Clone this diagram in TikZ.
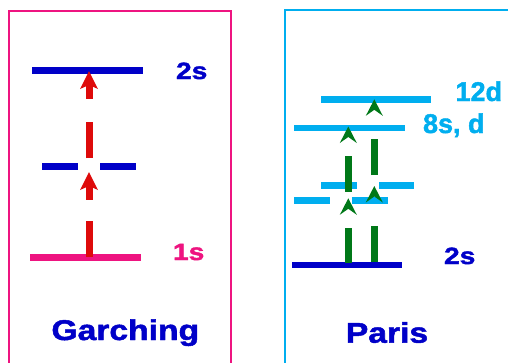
\documentclass[tikz,border=0pt]{standalone}
\usepackage{fontspec}
\setmainfont{Liberation Sans}
\newfontfamily\heavyfont{Liberation Sans Bold}[FakeBold=1.6]
\definecolor{pinkc}{RGB}{238,20,128}
\definecolor{darkbl}{RGB}{0,0,200}
\definecolor{cyanc}{RGB}{0,174,239}
\definecolor{redc}{RGB}{222,10,10}
\definecolor{greenc}{RGB}{0,120,24}
\tikzset{
  lvl/.style={line width=6.8pt},
  redbar/.style={redc,line width=7pt},
  greenbar/.style={greenc,line width=7pt},
  redtip/.pic={\fill[redc] (0,0) -- (9,18) -- (0,14) -- (-9,18) -- cycle;
               \fill[redc] (-3.5,13) rectangle (3.5,28);},
  greentip/.pic={\fill[greenc] (0,0) -- (8.5,16.5) -- (0,10.5) -- (-8.5,16.5) -- cycle;},
  smalllab/.style={font=\fontsize{23.5}{28}\heavyfont,inner sep=0pt,anchor=base,xscale=1.2},
  cyanlab/.style={font=\fontsize{27}{32}\heavyfont,inner sep=0pt,anchor=base,text=cyanc},
  titlelab/.style={font=\fontsize{28.5}{34}\heavyfont,inner sep=0pt,anchor=base,xscale=1.18,text=darkbl},
}
\begin{document}
\begin{tikzpicture}[x=1pt,y=-1pt]
\useasboundingbox (0,0) rectangle (508,362);
\fill[white] (0,0) rectangle (508,362);
% boxes
\draw[pinkc,line width=2pt] (9,365) -- (9,11) -- (231,11) -- (231,365);
\draw[cyanc,line width=2.2pt] (285,365) -- (285,10.3) -- (510,10.3);
% Garching levels
\draw[lvl,darkbl] (32,70.5) -- (143,70.5);
\draw[lvl,darkbl] (42,166.5) -- (78,166.5);
\draw[lvl,darkbl] (100,166.5) -- (136,166.5);
\draw[lvl,pinkc] (30,257.5) -- (141,257.5);
% red arrows
\draw[redbar] (89,257) -- (89,221);
\pic at (89,172) {redtip};
\draw[redbar] (89,158) -- (89,122);
\pic at (89,71) {redtip};
% Paris levels
\draw[lvl,cyanc] (321,99.3) -- (431,99.3);
\draw[lvl,cyanc] (294,128) -- (405,128);
\draw[lvl,cyanc] (321,185.5) -- (357,185.5);
\draw[lvl,cyanc] (379,185.5) -- (414,185.5);
\draw[lvl,cyanc] (294,200.5) -- (330,200.5);
\draw[lvl,cyanc] (352,200.5) -- (388,200.5);
\draw[lvl,darkbl] (292,265) -- (402,265);
% green arrows
\draw[greenbar] (348.3,263.3) -- (348.3,228.3);
\pic at (348.3,198.3) {greentip};
\draw[greenbar] (348.3,191.7) -- (348.3,156);
\pic at (348.3,126.5) {greentip};
\draw[greenbar] (374.3,261.7) -- (374.3,225.7);
\pic at (374.3,186) {greentip};
\draw[greenbar] (374.3,175) -- (374.3,139.3);
\pic at (374.3,99.3) {greentip};
% labels
\node[smalllab,text=darkbl] (g2s) at (191.7,79) {2s};
\node[smalllab,text=pinkc] (g1s) at (188.7,260) {1s};
\node[titlelab] (gar) at (125.3,340) {Garching};
\node[cyanlab] (p12d) at (478.8,101) {12d};
\node[cyanlab] (p8s) at (453.8,133) {8s, d};
\node[smalllab,text=darkbl] (p2s) at (459.7,264) {2s};
\node[titlelab] (par) at (387,342.7) {Paris};
\end{tikzpicture}
\end{document}
